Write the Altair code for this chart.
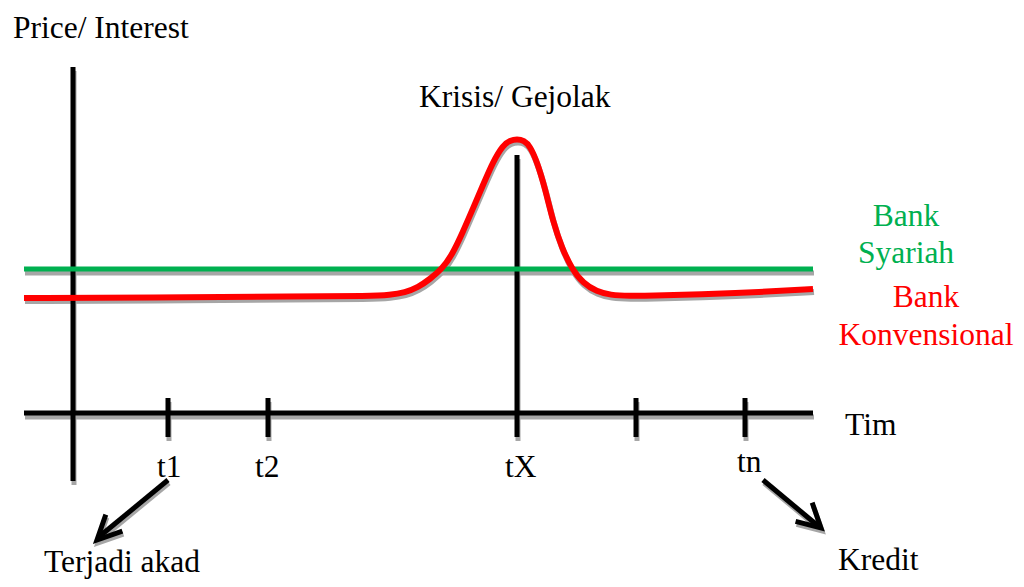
import altair as alt
import pandas as pd

# ---------------- data (diagram units = page pixels) ----------------
# black axis lines / tick marks: start (x, y) and end (x2, y2)
SEG_X = [73, 24, 168, 268, 636, 745, 517]
SEG_Y = [67, 413, 398, 398, 398, 398, 155]
SEG_X2 = [73, 813, 168, 268, 636, 745, 517]
SEG_Y2 = [481, 413, 437, 437, 437, 437, 437]

# Bank Syariah: flat level
GREEN_X = [24, 813]
GREEN_Y = [269, 269]

# Bank Konvensional: rises sharply at the crisis
RED_X = [24, 150, 300, 370, 390, 405, 418, 430, 442, 452, 463, 473, 483, 493, 503,
         510, 517, 524, 530, 537, 545, 553, 562, 572, 583, 597, 610, 630, 650, 700, 760, 813]
RED_Y = [298, 297.5, 296.5, 296, 295, 292.5, 287.5, 279, 269, 255, 231.7, 208.3,
         185, 161.7, 145, 140.5, 139, 140.5, 146, 161.7, 188, 221.7, 248.3, 269, 283.3,
         291.7, 295, 296, 295.8, 294.5, 292, 289]

# arrows: shafts and heads
SHAFT_X = [168, 763]
SHAFT_Y = [480, 480]
SHAFT_X2 = [100, 817]
SHAFT_Y2 = [536, 525]
HEAD_ID = ["a", "a", "a", "b", "b", "b"]
HEAD_ORDER = [0, 1, 2, 0, 1, 2]
HEAD_X = [105, 97, 120, 813, 821, 798]
HEAD_Y = [517, 540, 532, 505, 528, 522]

# texts
LEFT_TEXT = ["Price/ Interest", "Krisis/ Gejolak", "Tim", "t1", "t2", "tX", "tn",
             "Terjadi akad", "Kredit"]
LEFT_X = [13, 419, 845, 157, 255, 505, 737, 44, 838]
LEFT_Y = [38, 107, 435, 477, 477, 477, 472, 572, 570]

CENTER_TEXT = ["Bank", "Syariah", "Bank", "Konvensional"]
CENTER_X = [906, 906, 926, 926]
CENTER_Y = [226, 263, 307, 345]
CENTER_COLOR = ["#00b050", "#00b050", "#ff0000", "#ff0000"]

SHADOW = "#a6a6a6"
FONT = "Liberation Serif"
FS = 31.5

# ---------------- frames ----------------
seg = pd.DataFrame({"x": SEG_X, "y": SEG_Y, "x2": SEG_X2, "y2": SEG_Y2})
green = pd.DataFrame({"x": GREEN_X, "y": GREEN_Y})
red = pd.DataFrame({"x": RED_X, "y": RED_Y})
shaft = pd.DataFrame({"x": SHAFT_X, "y": SHAFT_Y, "x2": SHAFT_X2, "y2": SHAFT_Y2})
head = pd.DataFrame({"id": HEAD_ID, "o": HEAD_ORDER, "x": HEAD_X, "y": HEAD_Y})
ltext = pd.DataFrame({"t": LEFT_TEXT, "x": LEFT_X, "y": LEFT_Y})
ctext = pd.DataFrame({"t": CENTER_TEXT, "x": CENTER_X, "y": CENTER_Y, "c": CENTER_COLOR})

W, H = 1008, 571
XS = alt.Scale(domain=[8, 8 + W], nice=False, zero=False)
YS = alt.Scale(domain=[8, 8 + H], nice=False, zero=False, reverse=True)


def X(f="x"):
    return alt.X(f, type="quantitative", scale=XS, axis=None)


def Y(f="y"):
    return alt.Y(f, type="quantitative", scale=YS, axis=None)


def rules(df, color, width, dx=0, dy=0, cap="butt"):
    return alt.Chart(df).mark_rule(
        color=color, strokeWidth=width, strokeCap=cap,
        xOffset=dx, yOffset=dy, x2Offset=dx, y2Offset=dy,
    ).encode(x=X(), y=Y(), x2="x2:Q", y2="y2:Q")


def line(df, color, width, dx=0, dy=0, interp="linear"):
    return alt.Chart(df).mark_line(
        color=color, strokeWidth=width, xOffset=dx, yOffset=dy,
        interpolate=interp,
    ).encode(x=X(), y=Y())


def heads(color, dx=0, dy=0):
    return alt.Chart(head).mark_line(
        color=color, strokeWidth=5, strokeJoin="miter", strokeCap="square",
        xOffset=dx, yOffset=dy,
    ).encode(x=X(), y=Y(), detail="id:N", order="o:Q")


layers = [
    # shadows
    rules(seg, SHADOW, 5, 1, 4),
    line(green, SHADOW, 5, 1, 4),
    line(red, SHADOW, 6, 1, 3, "basis"),
    rules(shaft, SHADOW, 5, 1, 3),
    heads(SHADOW, 1, 3),
    # main strokes
    rules(seg, "black", 5),
    line(green, "#00b050", 5),
    line(red, "#ff0000", 6, 0, 0, "basis"),
    rules(shaft, "black", 5),
    heads("black"),
    # text
    alt.Chart(ltext).mark_text(
        font=FONT, fontSize=FS, align="left", baseline="alphabetic", color="black"
    ).encode(x=X(), y=Y(), text="t:N"),
    alt.Chart(ctext).mark_text(
        font=FONT, fontSize=FS, align="center", baseline="alphabetic"
    ).encode(x=X(), y=Y(), text="t:N", color=alt.Color("c:N", scale=None)),
]

chart = alt.layer(*layers).properties(
    width=W, height=H, padding=0, autosize=alt.AutoSizeParams(type="none"),
    background="white",
).configure_view(stroke=None)

chart.save("out.html", embed_options={"renderer": "svg", "actions": False})
